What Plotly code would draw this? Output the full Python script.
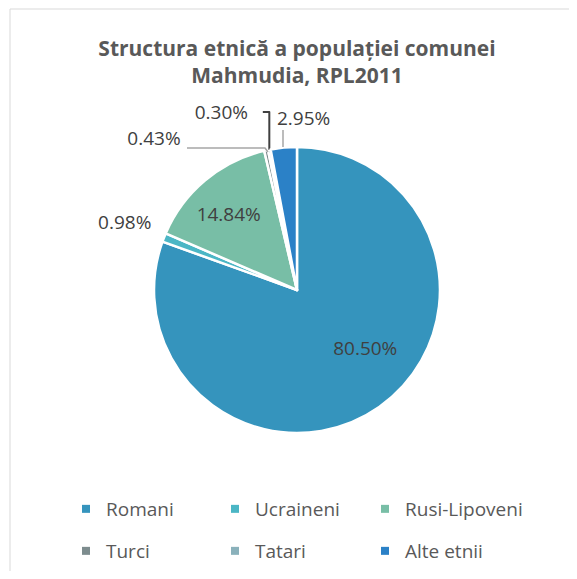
import plotly.graph_objects as go

# ethnic structure of Mahmudia commune, census 2011 (percent)
categories = ['Romani', 'Ucraineni', 'Rusi-Lipoveni', 'Turci', 'Tatari', 'Alte etnii']
values = [80.50, 0.98, 14.84, 0.43, 0.30, 2.95]
colors = ['#3594BD', '#4BB6C5', '#78BEA6', '#7D8C8E', '#8AB1BB', '#2B81C7']

FONT = 'Open Sans'
NBSP = '\u00a0'
W, H = 561, 563          # page body has an 8px margin
PW, PH = W - 2, H - 1    # paper size (margins l=2, t=1)


def px(x):  # page pixel -> paper x
    return (x - 10) / PW


def py(y):  # page pixel -> paper y
    return (571 - y) / PH


# label nudges done with padding; 2.95% is put as annotation
text_pos = ['inside', 'outside', 'inside', 'outside', 'outside', 'none']
lead = {0: 11}
trail = {2: 2, 3: 16, 4: 3}
tmpl = [NBSP * lead.get(i, 0) + '%{value:.2f}%' + NBSP * trail.get(i, 0)
        for i in range(len(values))]
tmpl[1] += '<br>' + NBSP  # lift the 0.98% label a bit

fig = go.Figure()

fig.add_trace(go.Pie(
    labels=categories, values=values,
    sort=False, direction='clockwise', rotation=0,
    marker=dict(colors=colors, line=dict(color='white', width=2.5)),
    texttemplate=tmpl, textposition=text_pos,
    textfont=dict(family=FONT, size=19, color='#404040'),
    insidetextorientation='horizontal',
    showlegend=False, hoverinfo='label+percent',
    domain=dict(x=[0.2, 0.8268], y=[0.2456, 0.7544]),
))

# one legend per entry: 3 columns x 2 rows
col_x = [58, 207, 357]
row_y = [501, 543]
legends = {}
for i, (name, col) in enumerate(zip(categories, colors)):
    key = 'legend' if i == 0 else f'legend{i + 1}'
    fig.add_trace(go.Scatter(
        x=[None], y=[None], mode='markers', name=name,
        marker=dict(symbol='square', size=8, color=col),
        legend=key,
    ))
    legends[key] = dict(orientation='h', xref='container', yref='container',
                        x=col_x[i % 3] / W, y=1 - row_y[i // 3] / H,
                        xanchor='left', yanchor='middle',
                        font=dict(family=FONT, size=19, color='#595959'),
                        bgcolor='rgba(0,0,0,0)')

# label for the "Alte etnii" slice
fig.add_annotation(text=f'{values[5]:.2f}%', xref='paper', yref='paper',
                   x=px(303), y=py(118), showarrow=False,
                   xanchor='center', yanchor='middle',
                   font=dict(family=FONT, size=19, color='#404040'))

leader = dict(color='#A6A6A6', width=1.5)
fig.update_layout(
    width=W, height=H,
    margin=dict(l=2, r=0, t=1, b=0, autoexpand=False),
    paper_bgcolor='white', plot_bgcolor='white',
    title=dict(text='Structura etnică a populației comunei<br>Mahmudia, RPL2011',
               x=289 / W, xanchor='center', y=1 - 47.5 / H, yanchor='middle',
               font=dict(family=FONT, size=21, color='#595959', weight='bold')),
    xaxis=dict(visible=False), yaxis=dict(visible=False),
    shapes=[
        dict(type='rect', xref='paper', yref='paper',
             x0=0, x1=1.05, y0=-0.05, y1=1,
             line=dict(color='#D9D9D9', width=1)),
        # leader lines of the 0.43% and 2.95% labels
        dict(type='path', xref='paper', yref='paper', line=leader,
             path=f'M {px(187)} {py(148)} L {px(265)} {py(148)} L {px(268)} {py(152)}'),
        dict(type='line', xref='paper', yref='paper', line=leader,
             x0=px(283), x1=px(283), y0=py(130), y1=py(147)),
    ],
    **legends,
)

fig.write_html('out.html')
